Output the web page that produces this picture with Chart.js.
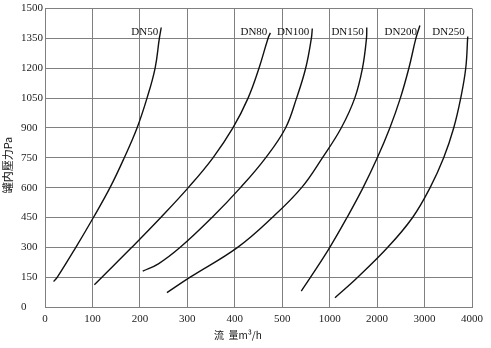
<!DOCTYPE html>
<html>
<head>
<meta charset="utf-8">
<script src="https://cdn.jsdelivr.net/npm/chart.js@4.4.1/dist/chart.umd.min.js"></script>
<style>
  html, body { margin: 0; padding: 0; background: #fff; }
  #flowChart { display: block; }
</style>
</head>
<body>
<canvas id="flowChart" width="491" height="348"></canvas>
<script>
// flow axis ticks (equal spacing between ticks, not a linear axis)
const flowTicks = [0, 100, 200, 300, 400, 500, 1000, 2000, 3000, 4000];
const pressureMax = 1500;
const pressureStep = 150;

const seriesNames = ['DN50', 'DN80', 'DN100', 'DN150', 'DN200', 'DN250'];

const dn50Flow = [18, 26, 65, 102, 137, 167, 194, 215, 232, 241, 245];
const dn50Pressure = [128, 150, 300, 450, 600, 750, 900, 1050, 1200, 1350, 1405];

const dn80Flow = [104, 120, 183, 244, 302, 354, 396, 428, 451, 470, 475];
const dn80Pressure = [112, 150, 300, 450, 600, 750, 900, 1050, 1200, 1350, 1378];

const dn100Flow = [206, 239, 285, 352, 412, 465, 535, 651, 747, 807, 817];
const dn100Pressure = [180, 217, 300, 450, 600, 750, 900, 1050, 1200, 1350, 1400];

const dn150Flow = [257, 306, 406, 479, 704, 923, 1243, 1529, 1691, 1776, 1782];
const dn150Pressure = [72, 150, 300, 450, 600, 750, 900, 1050, 1200, 1350, 1405];

const dn200Flow = [701, 799, 1003, 1366, 1704, 2004, 2268, 2490, 2669, 2817, 2902];
const dn200Pressure = [80, 150, 300, 450, 600, 750, 900, 1050, 1200, 1350, 1415];

const dn250Flow = [1112, 1592, 2225, 2748, 3117, 3403, 3614, 3762, 3868, 3910];
const dn250Pressure = [47, 150, 300, 450, 600, 750, 900, 1050, 1200, 1360];

const flows = [dn50Flow, dn80Flow, dn100Flow, dn150Flow, dn200Flow, dn250Flow];
const pressures = [dn50Pressure, dn80Pressure, dn100Pressure, dn150Pressure, dn200Pressure, dn250Pressure];

// position of a flow value measured in tick steps
function flowToStep(v) {
    for (let i = 0; i < flowTicks.length - 1; i++) {
        const a = flowTicks[i], b = flowTicks[i + 1];
        if (v <= b || i === flowTicks.length - 2) return i + (v - a) / (b - a);
    }
    return 0;
}

function stepToFlow(s) {
    const i = Math.max(0, Math.min(flowTicks.length - 2, Math.floor(s)));
    return flowTicks[i] + (s - i) * (flowTicks[i + 1] - flowTicks[i]);
}

class StepFlowScale extends Chart.LinearScale {
    buildTicks() {
        return flowTicks.map(v => ({ value: v }));
    }
    getPixelForValue(value) {
        return this.getPixelForDecimal(flowToStep(value) / (flowTicks.length - 1));
    }
    getValueForPixel(pixel) {
        return stepToFlow(this.getDecimalForPixel(pixel) * (flowTicks.length - 1));
    }
}
StepFlowScale.id = 'stepflow';
StepFlowScale.defaults = Chart.LinearScale.defaults;
Chart.register(StepFlowScale);

const serif = 'Liberation Serif, DejaVu Serif, serif';

// curve names, axis titles
const labelPlugin = {
    id: 'curveLabels',
    afterDatasetsDraw(chart) {
        const { ctx, scales: { x, y } } = chart;
        ctx.save();
        ctx.fillStyle = '#111';
        ctx.font = '11px ' + serif;
        ctx.textAlign = 'right';
        ctx.textBaseline = 'middle';
        seriesNames.forEach((name, i) => {
            const f = flows[i];
            ctx.fillText(name, x.getPixelForValue(f[f.length - 1]) - 3, y.getPixelForValue(1380));
        });

        ctx.font = '10px "Noto Sans CJK SC", "Liberation Sans", sans-serif';
        ctx.textAlign = 'left';
        ctx.fillText('流  量m³/h', 214, 335);

        ctx.translate(8, 165);
        ctx.rotate(-Math.PI / 2);
        ctx.textAlign = 'center';
        ctx.font = '11px "Noto Sans CJK TC", "Liberation Sans", sans-serif';
        ctx.fillText('罐内壓力Pa', 0, 0);
        ctx.restore();
    }
};

const ctx = document.getElementById('flowChart').getContext('2d');
new Chart(ctx, {
    type: 'line',
    data: {
        datasets: seriesNames.map((name, i) => ({
            label: name,
            data: flows[i].map((f, j) => ({ x: f, y: pressures[i][j] })),
            borderColor: '#111',
            borderWidth: 1.4,
            pointRadius: 0,
            tension: 0.4,
            fill: false
        }))
    },
    options: {
        responsive: false,
        animation: false,
        layout: { padding: { left: 21, right: 19, top: 7, bottom: 0 } },
        plugins: { legend: { display: false }, tooltip: { enabled: false } },
        scales: {
            x: {
                type: 'stepflow',
                min: 0,
                max: 4000,
                grid: { color: '#808080', lineWidth: 1, drawTicks: false },
                border: { color: '#808080' },
                ticks: {
                    color: '#222',
                    font: { family: serif, size: 11 },
                    padding: 6,
                    maxRotation: 0,
                    autoSkip: false,
                    callback: v => String(v)
                },
                afterFit: s => { s.height = 41; }
            },
            y: {
                min: 0,
                max: pressureMax,
                grid: { color: '#808080', lineWidth: 1, drawTicks: false },
                border: { color: '#808080' },
                ticks: {
                    stepSize: pressureStep,
                    color: '#222',
                    crossAlign: 'far',
                    font: { family: serif, size: 11 },
                    padding: 2,
                    callback: v => String(v)
                },
                afterFit: s => { s.width = 24; }
            }
        }
    },
    plugins: [labelPlugin]
});
</script>
</body>
</html>
